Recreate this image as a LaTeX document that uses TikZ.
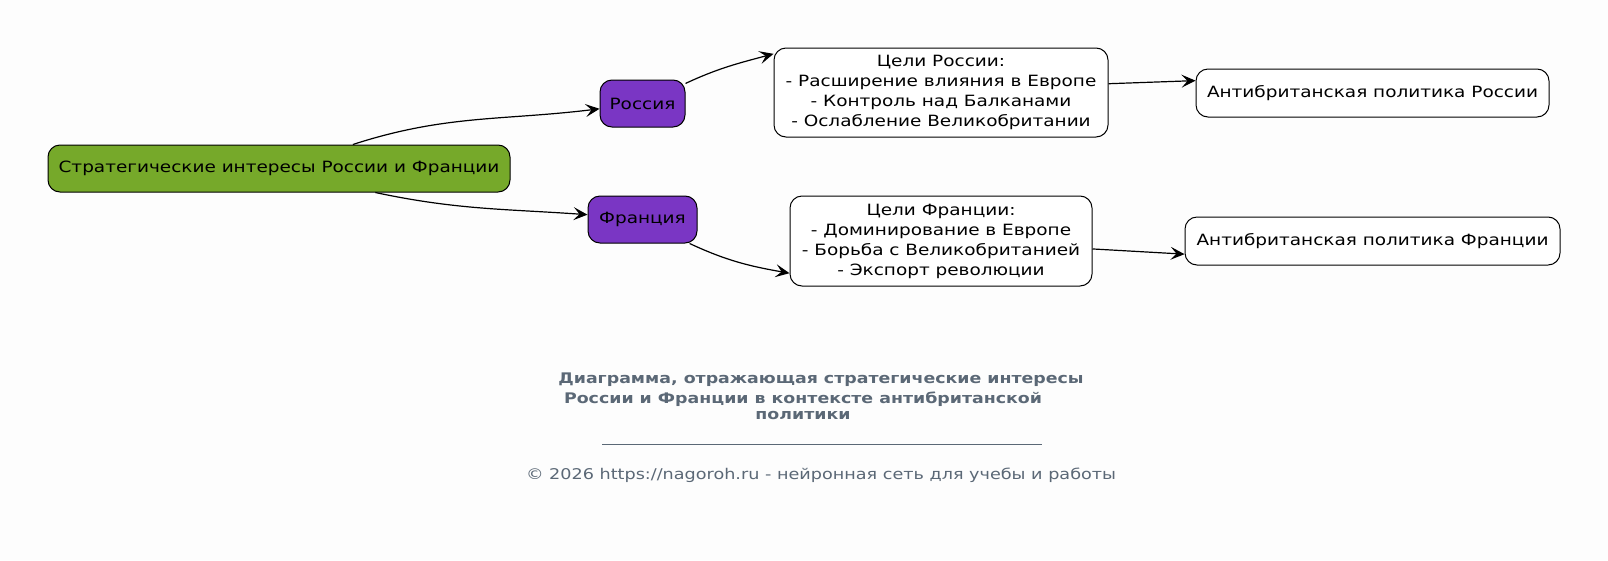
\documentclass[tikz,border=0pt]{standalone}
\usepackage{fontspec}
\setmainfont{DejaVu Sans}[FakeStretch=1.19]
\usetikzlibrary{arrows.meta}
\definecolor{bg}{HTML}{FDFDFD}
\definecolor{green1}{HTML}{76A92A}
\definecolor{purple1}{HTML}{7A36C4}
\definecolor{titlec}{HTML}{5B6876}
\tikzset{
  box/.style={draw=black, line width=1pt, rounded corners=12pt, align=center, inner sep=0pt, font=\fontsize{15.5}{20}\selectfont, text=black},
  conn/.style={line width=1.2pt, -{Stealth[length=14pt, width=13pt, inset=6pt]}},
  ttl/.style={text=titlec, font=\bfseries\fontsize{14.6}{18}\selectfont},
}
\begin{document}
\begin{tikzpicture}[x=1pt,y=1pt]
\fill[bg] (0,0) rectangle (1608,-560);
\useasboundingbox (0,0) rectangle (1608,-560);
\node[box, fill=green1, minimum width=462pt, minimum height=47pt] (main) at (279,-168.5) {Стратегические интересы России и Франции};
\node[box, fill=purple1, minimum width=85pt, minimum height=47pt] (ros) at (642.5,-103.5) {Россия};
\node[box, fill=purple1, minimum width=109pt, minimum height=47pt] (fra) at (642.5,-219.5) {Франция};
\node[box, fill=white, minimum width=334pt, minimum height=89pt] (cr) at (941,-92.5) {Цели России:\\- Расширение влияния в Европе\\- Контроль над Балканами\\- Ослабление Великобритании};
\node[box, fill=white, minimum width=302pt, minimum height=90pt] (cf) at (941,-241) {Цели Франции:\\- Доминирование в Европе\\- Борьба с Великобританией\\- Экспорт революции};
\node[box, fill=white, minimum width=353pt, minimum height=48pt] (ar) at (1372.5,-93) {Антибританская политика России};
\node[box, fill=white, minimum width=375pt, minimum height=48pt] (af) at (1372.5,-241) {Антибританская политика Франции};
\draw[conn] (main.18.6) to[out=18,in=187] (ros.187);
\draw[conn] (main.-14.6) to[out=-12,in=176] (fra.175.3);
\draw[conn] (ros.25) to[out=25,in=195] (cr.167);
\draw[conn] (fra.-27) to[out=-25,in=170] (cf.192.7);
\draw[conn] (cr.3) -- (ar.176);
\draw[conn] (cf.-3) -- (af.184);
\node[ttl] (t1) at (821,-380) {Диаграмма, отражающая стратегические интересы};
\node[ttl] (t2) at (803,-399) {России и Франции в контексте антибританской};
\node[ttl] (t3) at (803,-416) {политики};
\draw[titlec, line width=0.7pt] (602,-444) -- (1042,-444);
\node[text=titlec, font=\fontsize{14.8}{18}\selectfont] (cp) at (821,-475) {© 2026 https://nagoroh.ru - нейронная сеть для учебы и работы};
\end{tikzpicture}
\end{document}
